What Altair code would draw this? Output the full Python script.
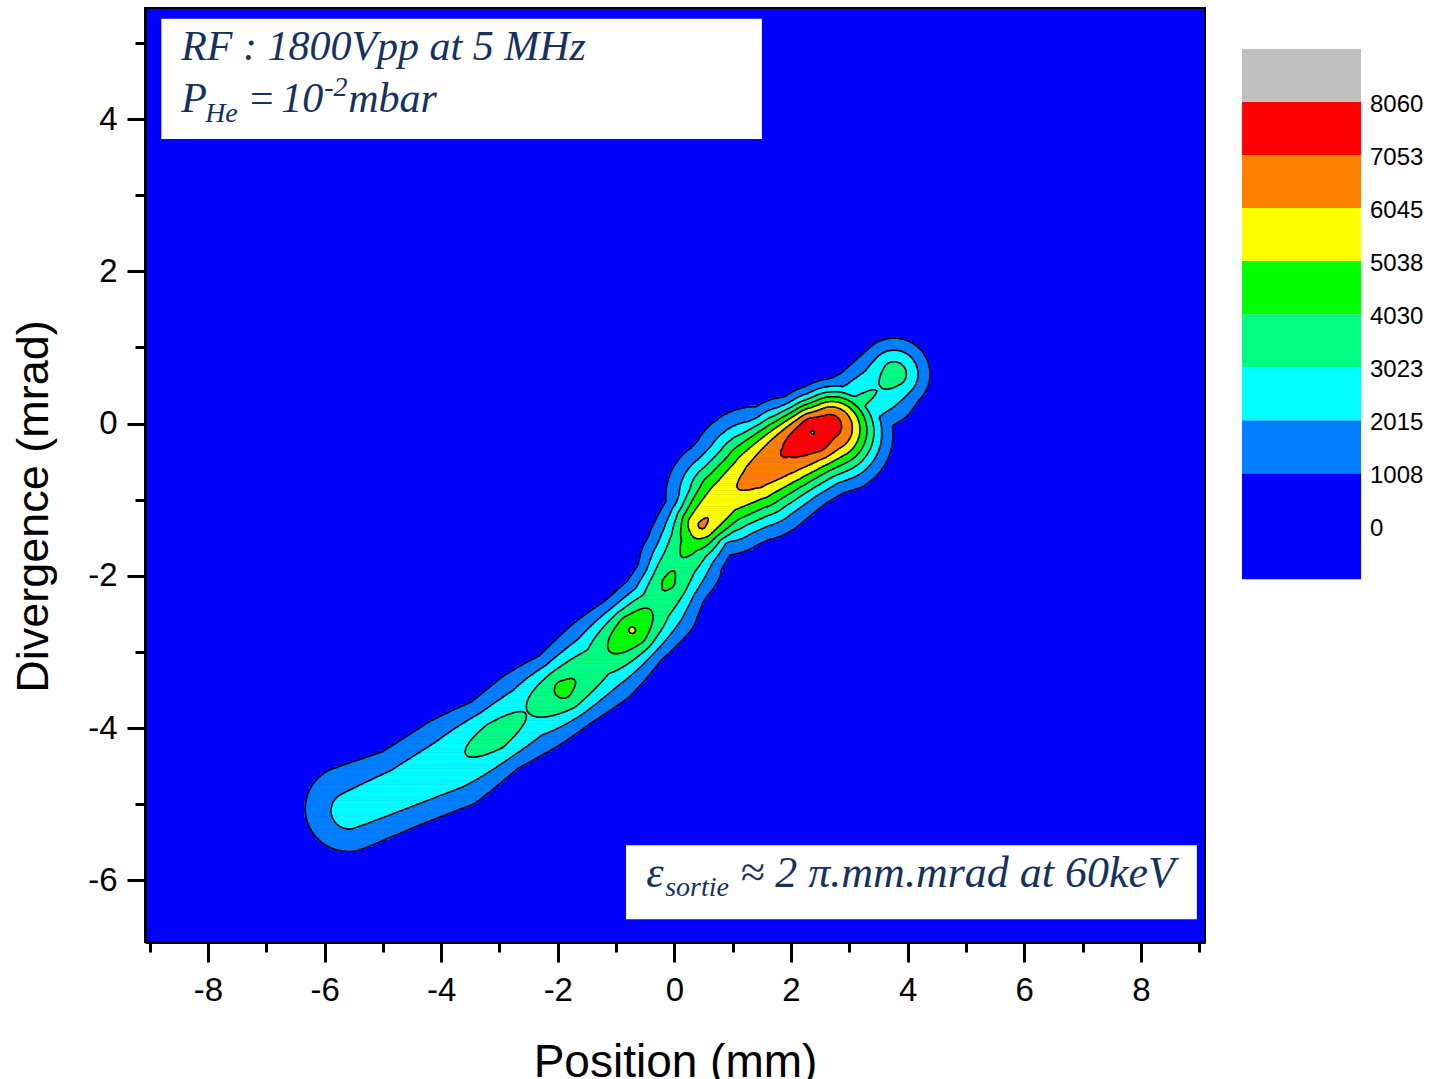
import numpy as np
import pandas as pd
import altair as alt

# ---------------- axes ----------------
X_DOMAIN = [-9.08, 9.10]
Y_DOMAIN = [-6.81, 5.46]
x_major = [-8, -6, -4, -2, 0, 2, 4, 6, 8]
x_minor = [-9, -7, -5, -3, -1, 1, 3, 5, 7, 9]
y_major = [-6, -4, -2, 0, 2, 4]
y_minor = [-5, -3, -1, 1, 3, 5]

# ---------------- contour levels / colours ----------------
levels = [1008, 2015, 3023, 4030, 5038, 6045, 7053, 8060]
level_colors = ["#0000ff", "#0080ff", "#00ffff", "#00ff80", "#00ff00",
                "#ffff00", "#ff8000", "#ff0000", "#c0c0c0"]

# colour bar blocks (block index units) and labels
colorbar_values = [0, 1008, 2015, 3023, 4030, 5038, 6045, 7053, 8060]
colorbar_lo = [0, 2, 3, 4, 5, 6, 7, 8, 9]
colorbar_hi = [2, 3, 4, 5, 6, 7, 8, 9, 10]
colorbar_label_pos = [1, 2, 3, 4, 5, 6, 7, 8, 9]
colorbar_labels = ["0", "1008", "2015", "3023", "4030", "5038", "6045", "7053", "8060"]

# ---------------- phase-space density (ridge) ----------------
# main ridge knots: position (mm, mrad), peak count, half widths (mm) on upper/lower side, profile exponent
main_x = [-5.563, -4.705, -3.813, -3.075, -2.526, -1.909, -1.309, -0.726, -0.331, -0.108,
          0.063, 0.252, 0.475, 0.870, 1.418, 1.899, 2.362, 2.636]
main_y = [-5.106, -4.803, -4.462, -4.107, -3.791, -3.489, -3.128, -2.713, -2.371, -2.082,
          -1.819, -1.609, -1.333, -0.965, -0.676, -0.373, -0.110, -0.005]
main_amp = [2350, 2550, 2800, 3500, 3000, 4300, 3500, 5100, 3750, 4200,
            3900, 4300, 6150, 5750, 6500, 7100, 8070, 7450]
main_wl = [0.62, 0.52, 0.57, 0.45, 0.50, 0.41, 0.49, 0.38, 0.38, 0.35,
           0.40, 0.42, 0.39, 0.55, 0.61, 0.51, 0.41, 0.41]
main_wr = [0.51, 0.51, 0.55, 0.43, 0.52, 0.44, 0.51, 0.40, 0.47, 0.41,
           0.46, 0.40, 0.34, 0.53, 0.58, 0.62, 0.63, 0.67]
main_p = [2, 2, 2, 2, 2, 2, 2, 2, 2, 2, 2, 2, 2, 2, 2, 2.3, 2.3, 2.3]

# upper-right branch
branch_x = [2.774, 3.151, 3.528, 3.768]
branch_y = [0.100, 0.284, 0.468, 0.652]
branch_amp = [3400, 3150, 3000, 3500]
branch_wl = [0.39, 0.38, 0.43, 0.39]
branch_wr = [0.45, 0.43, 0.45, 0.39]
branch_p = [2, 2, 2, 2]

RY = 1.305  # mrad -> mm-equivalent (screen aspect of the original axes)

# ---------------- annotations ----------------
NAVY = "#15325f"
SERIF = "Liberation Serif"
SANS = "Liberation Sans"
box1 = dict(x=-8.80, x2=1.50, y=3.74, y2=5.32)
box2 = dict(x=-0.83, x2=8.96, y=-6.51, y2=-5.54)
line1_text = "RF : 1800Vpp at 5 MHz"
line2_parts = ["P", "He", "=", "10", "-2", "mbar"]
eps_parts = ["\u03b5", "sortie", "\u2248 2 \u03c0.mm.mrad at 60keV"]


def ridge(GX, GY, kx, ky, ka, kwl, kwr, kp):
    kx = np.asarray(kx, float)
    ky = np.asarray(ky, float) * RY
    ka = np.asarray(ka, float)
    kwl = np.asarray(kwl, float)
    kwr = np.asarray(kwr, float)
    kp = np.asarray(kp, float)
    GYs = GY * RY
    out = np.zeros_like(GX)
    for j in range(len(kx) - 1):
        ax, ay, bx, by = kx[j], ky[j], kx[j + 1], ky[j + 1]
        vx, vy = bx - ax, by - ay
        L = np.hypot(vx, vy)
        t = np.clip(((GX - ax) * vx + (GYs - ay) * vy) / L ** 2, 0, 1)
        ddx = GX - (ax + t * vx)
        ddy = GYs - (ay + t * vy)
        d = np.hypot(ddx, ddy)
        s = (vx * ddy - vy * ddx) / (L * np.maximum(d, 1e-9))
        a = ka[j] + t * (ka[j + 1] - ka[j])
        wl = kwl[j] + t * (kwl[j + 1] - kwl[j])
        wr = kwr[j] + t * (kwr[j + 1] - kwr[j])
        p = kp[j] + t * (kp[j + 1] - kp[j])
        w = 0.5 * (wl + wr) + 0.5 * (wl - wr) * s
        g = a * np.exp(-0.5 * (d / w) ** p)
        out = np.maximum(out, g)
    return out


DX, DY = 0.04, 0.03
gx = np.arange(-7.0, 5.0 + 1e-9, DX)
gy = np.arange(-6.5, 2.0 + 1e-9, DY)
GX, GY = np.meshgrid(gx, gy)
F = np.maximum(ridge(GX, GY, main_x, main_y, main_amp, main_wl, main_wr, main_p),
               ridge(GX, GY, branch_x, branch_y, branch_amp, branch_wl, branch_wr, branch_p))

# filled bands: run-length cells per row
idx = np.searchsorted(np.array(levels, float), F, side="right")
cells = []
nx = len(gx)
for j in range(len(gy)):
    row = idx[j]
    i = 0
    while i < nx:
        if row[i] == 0:
            i += 1
            continue
        k = i
        while k + 1 < nx and row[k + 1] == row[i]:
            k += 1
        cells.append((round(gx[i] - DX / 2, 4), round(gx[k] + DX / 2, 4),
                      round(gy[j] - DY / 2, 4), round(gy[j] + DY / 2, 4), levels[row[i] - 1]))
        i = k + 1
cells_df = pd.DataFrame(cells, columns=["x0", "x1", "y0", "y1", "v"])


# contour lines: marching squares
def contour_segments(F, gx, gy, L):
    B = F >= L
    c = (B[:-1, :-1] * 1 + B[:-1, 1:] * 2 + B[1:, 1:] * 4 + B[1:, :-1] * 8)
    js, iis = np.nonzero((c > 0) & (c < 15))
    segs = []
    table = {1: [("l", "b")], 2: [("b", "r")], 3: [("l", "r")], 4: [("r", "t")],
             6: [("b", "t")], 7: [("l", "t")], 8: [("l", "t")], 9: [("b", "t")],
             11: [("r", "t")], 12: [("l", "r")], 13: [("b", "r")], 14: [("l", "b")]}
    for j, i in zip(js, iis):
        v00, v10, v11, v01 = F[j, i], F[j, i + 1], F[j + 1, i + 1], F[j + 1, i]
        x0, x1, y0, y1 = gx[i], gx[i + 1], gy[j], gy[j + 1]
        E = {
            "b": (x0 + (x1 - x0) * (L - v00) / (v10 - v00), y0) if v10 != v00 else None,
            "r": (x1, y0 + (y1 - y0) * (L - v10) / (v11 - v10)) if v11 != v10 else None,
            "t": (x0 + (x1 - x0) * (L - v01) / (v11 - v01), y1) if v11 != v01 else None,
            "l": (x0, y0 + (y1 - y0) * (L - v00) / (v01 - v00)) if v01 != v00 else None,
        }
        cc = c[j, i]
        center = 0.25 * (v00 + v10 + v11 + v01) >= L
        if cc == 5:
            pairs = [("b", "r"), ("l", "t")] if center else [("l", "b"), ("r", "t")]
        elif cc == 10:
            pairs = [("l", "b"), ("r", "t")] if center else [("b", "r"), ("l", "t")]
        else:
            pairs = table[cc]
        for a, b in pairs:
            pa, pb = E[a], E[b]
            if pa is None or pb is None:
                continue
            segs.append((round(pa[0], 4), round(pa[1], 4), round(pb[0], 4), round(pb[1], 4)))
    return segs


segs = []
for L in levels:
    segs.extend(contour_segments(F, gx, gy, L))
seg_df = pd.DataFrame(segs, columns=["x", "y", "x2", "y2"])

# ---------------- chart ----------------
xs = alt.Scale(domain=X_DOMAIN, nice=False, zero=False)
ys = alt.Scale(domain=Y_DOMAIN, nice=False, zero=False)
cscale = alt.Scale(type="threshold", domain=levels, range=level_colors)

x_axis_major = alt.Axis(orient="bottom", values=x_major, tickSize=20, tickWidth=3, tickColor="black",
                        domain=True, domainColor="black", domainWidth=3, grid=False,
                        labelFont=SANS, labelFontSize=33, labelColor="black", labelPadding=12,
                        labelExpr="'' + datum.value", labelFlush=False, labelOverlap=False,
                        title="Position (mm)", titleFont=SANS, titleFontSize=46, titleFontWeight="normal",
                        titleColor="black", titleX=530, titleY=134, titleBaseline="alphabetic",
                        titleAlign="center", zindex=2)
y_axis_major = alt.Axis(orient="left", values=y_major, tickSize=18, tickWidth=3, tickColor="black",
                        domain=True, domainColor="black", domainWidth=3, grid=False,
                        labelFont=SANS, labelFontSize=33, labelColor="black", labelPadding=10,
                        labelExpr="'' + datum.value", labelFlush=False, labelOverlap=False,
                        title="Divergence (mrad)", titleFont=SANS, titleFontSize=45, titleFontWeight="normal",
                        titleColor="black", titleAngle=270, titleX=-98, titleY=498,
                        titleBaseline="alphabetic", titleAlign="center", zindex=2)
x_axis_minor = alt.Axis(orient="bottom", values=x_minor, tickSize=10, tickWidth=3, tickColor="black",
                        domain=False, grid=False, labels=False, zindex=2)
y_axis_minor = alt.Axis(orient="left", values=y_minor, tickSize=10, tickWidth=3, tickColor="black",
                        domain=False, grid=False, labels=False, zindex=2)

fill_layer = alt.Chart(cells_df).mark_rect(strokeWidth=0.6).encode(
    x=alt.X("x0:Q", scale=xs, axis=x_axis_major),
    x2="x1:Q",
    y=alt.Y("y0:Q", scale=ys, axis=y_axis_major),
    y2="y1:Q",
    color=alt.Color("v:Q", scale=cscale, legend=None),
    stroke=alt.Stroke("v:Q", scale=cscale, legend=None),
)

line_layer = alt.Chart(seg_df).mark_rule(color="black", strokeWidth=1.5, strokeCap="round").encode(
    x=alt.X("x:Q", scale=xs, axis=x_axis_minor, title=None),
    y=alt.Y("y:Q", scale=ys, axis=y_axis_minor, title=None),
    x2="x2:Q",
    y2="y2:Q",
)

box_df = pd.DataFrame([box1, box2])
box_layer = alt.Chart(box_df).mark_rect(color="white").encode(
    x=alt.X("x:Q", scale=xs, axis=None), x2="x2:Q",
    y=alt.Y("y:Q", scale=ys, axis=None), y2="y2:Q",
)


def txt(x, y, s, size, dx=0, dy=0):
    df = pd.DataFrame({"x": [x], "y": [y], "t": [s]})
    return alt.Chart(df).mark_text(align="left", baseline="alphabetic", font=SERIF, fontStyle="italic",
                                   fontSize=size, color=NAVY, dx=dx, dy=dy).encode(
        x=alt.X("x:Q", scale=xs, axis=None),
        y=alt.Y("y:Q", scale=ys, axis=None),
        text="t:N",
    )


ax1 = -8.46
text_layers = [
    txt(ax1, 4.78, line1_text, 42),
    txt(ax1, 4.10, line2_parts[0], 42),
    txt(ax1, 4.10, line2_parts[1], 28, dx=24, dy=10),
    txt(ax1, 4.10, line2_parts[2], 42, dx=66),
    txt(ax1, 4.10, line2_parts[3], 42, dx=100),
    txt(ax1, 4.10, line2_parts[4], 28, dx=143, dy=-16),
    txt(ax1, 4.10, line2_parts[5], 42, dx=167),
    txt(-0.485, -6.09, eps_parts[0], 44),
    txt(-0.485, -6.09, eps_parts[1], 28, dx=19, dy=9),
    txt(-0.485, -6.09, eps_parts[2], 44, dx=94),
]

cb_df = pd.DataFrame({"lo": colorbar_lo, "hi": colorbar_hi, "v": colorbar_values,
                      "c0": [0] * 9, "c1": [1] * 9})
cbx = alt.Scale(domain=[-9.218, -0.311], nice=False, zero=False)
cby = alt.Scale(domain=[-6.84, 10.773], nice=False, zero=False)
cb_layer = alt.Chart(cb_df).mark_rect().encode(
    x=alt.X("c0:Q", scale=cbx, axis=None), x2="c1:Q",
    y=alt.Y("lo:Q", scale=cby, axis=None), y2="hi:Q",
    color=alt.Color("v:Q", scale=cscale, legend=None),
)
cbl_df = pd.DataFrame({"pos": colorbar_label_pos, "lab": colorbar_labels, "c1": [1] * 9})
cbl_layer = alt.Chart(cbl_df).mark_text(align="left", baseline="middle", dx=9, dy=3, font=SANS,
                                        fontSize=24, color="black").encode(
    x=alt.X("c1:Q", scale=cbx, axis=None),
    y=alt.Y("pos:Q", scale=cby, axis=None),
    text="lab:N",
)

chart = alt.layer(fill_layer, line_layer, box_layer, *text_layers, cb_layer, cbl_layer).resolve_scale(
    x="independent", y="independent"
).properties(
    width=1060, height=934,
    autosize=alt.AutoSizeParams(type="none"),
    padding={"left": 145, "top": 8, "right": 224, "bottom": 137},
    background="white",
).configure_view(fill="#0000ff", stroke="black", strokeWidth=2)

chart.save("out.html", embed_options={"renderer": "svg", "actions": False})
